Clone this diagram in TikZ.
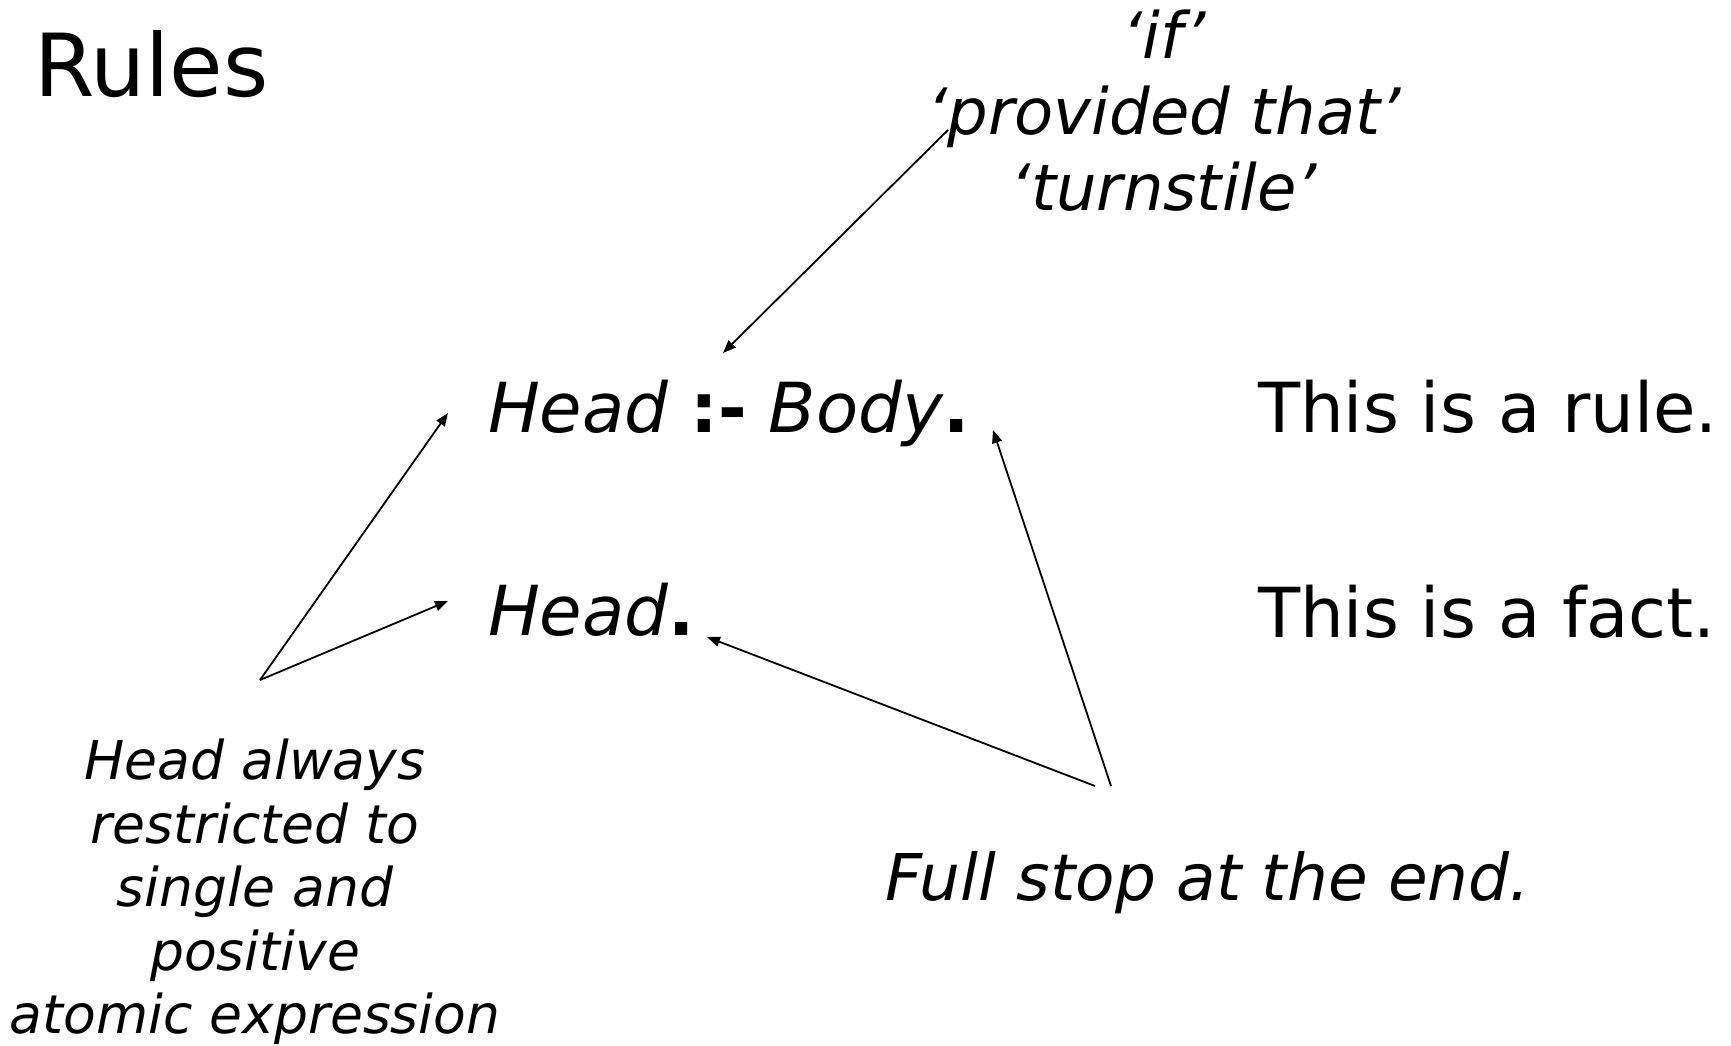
\documentclass[tikz,border=0pt]{standalone}
\usepackage{fontspec}
\setmainfont{DejaVu Sans}
\usetikzlibrary{arrows.meta}
\begin{document}
\begin{tikzpicture}[x=1pt,y=-1pt,
  txt/.style={inner sep=0pt, outer sep=0pt, text=black},
  big/.style={font=\fontsize{69}{80}\selectfont},
  arr/.style={-{Triangle[length=13pt,width=10pt]}, line width=1.8pt, black}]
\useasboundingbox (0,0) rectangle (1731,1046);
\node[txt, anchor=base west, font=\fontsize{87}{100}\selectfont] (title) at (34,97) {Rules};
\node[txt, big, anchor=base west] (rule) at (488,432) {\textit{Head} \textbf{:-} \textit{Body}\textbf{.}};
\node[txt, big, anchor=base west] (fact) at (488,635) {\textit{Head}\textbf{.}};
\node[txt, big, anchor=base west] (rulenote) at (1258,432) {This is a rule.};
\node[txt, big, anchor=base west] (factnote) at (1258,637) {This is a fact.};
\node[txt, anchor=north, align=center, font=\fontsize{64}{76}\selectfont\itshape] (ifnote) at (1164,10) {‘if’\\‘provided that’\\‘turnstile’};
\node[txt, anchor=north, align=center, font=\fontsize{53.5}{63.5}\selectfont\itshape] (headnote) at (255,739) {Head always\\restricted to\\single and\\positive\\atomic expression};
\node[txt, anchor=base west, font=\fontsize{64.5}{75}\selectfont\itshape] (stopnote) at (885,900) {Full stop at the end.};
\coordinate (ifstart) at (948,130);
\coordinate (colontip) at (723,353);
\coordinate (headstart) at (260,680);
\coordinate (ruletip) at (448,413);
\coordinate (facttip) at (448,601);
\coordinate (stopA) at (1095,786);
\coordinate (stopB) at (1111,786);
\coordinate (factdot) at (707,637);
\coordinate (ruledot) at (993,430);
\draw[arr] (ifstart) -- (colontip);
\draw[arr] (headstart) -- (ruletip);
\draw[arr] (headstart) -- (facttip);
\draw[arr] (stopA) -- (factdot);
\draw[arr] (stopB) -- (ruledot);
\end{tikzpicture}
\end{document}
